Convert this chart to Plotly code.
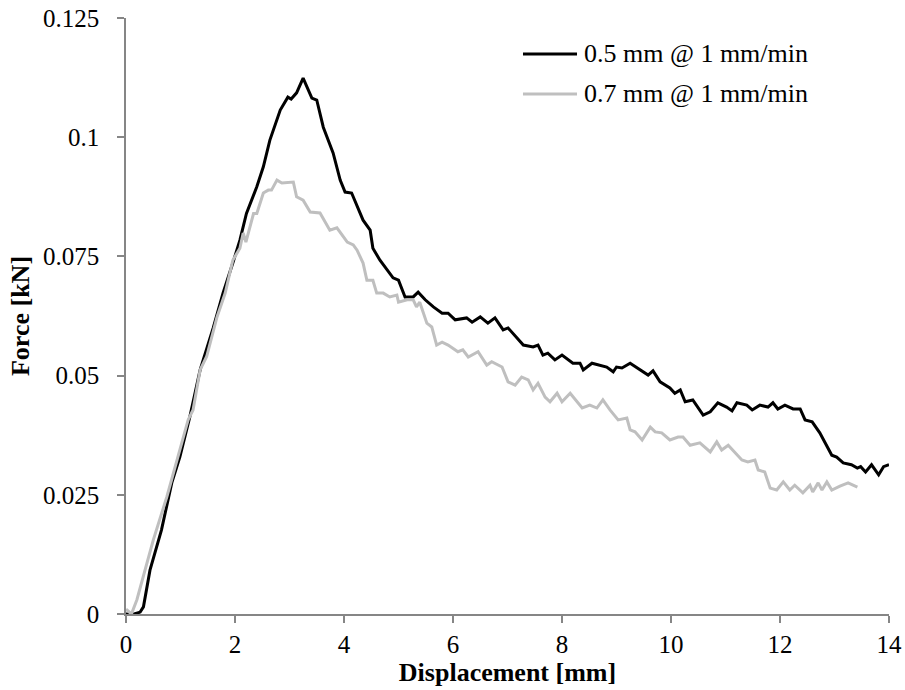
import plotly.graph_objects as go

# Series 1: 0.5 mm @ 1 mm/min
x_05 = [0, 0.15, 0.26, 0.32, 0.44, 0.65, 0.84, 0.99, 1.17, 1.36, 1.6, 1.78, 1.96, 2.09, 2.21, 2.4, 2.52, 2.64,
        2.83, 2.97, 3.03, 3.13, 3.25, 3.41, 3.5, 3.62, 3.8, 3.93, 4.02, 4.14, 4.35, 4.48, 4.53, 4.66, 4.9, 5.0,
        5.12, 5.27, 5.36, 5.49, 5.64, 5.8, 5.91, 6.04, 6.25, 6.35, 6.5, 6.64, 6.77, 6.92, 7.01, 7.29, 7.47,
        7.56, 7.65, 7.74, 7.87, 8.0, 8.2, 8.33, 8.39, 8.55, 8.82, 8.94, 9.0, 9.1, 9.25, 9.43, 9.58, 9.67, 9.8,
        9.98, 10.07, 10.17, 10.26, 10.4, 10.59, 10.72, 10.86, 11.02, 11.12, 11.21, 11.39, 11.49, 11.63, 11.78,
        11.87, 11.96, 12.09, 12.24, 12.37, 12.46, 12.59, 12.73, 12.86, 12.95, 13.04, 13.16, 13.31, 13.42, 13.48,
        13.57, 13.68, 13.81, 13.9, 14.0]
y_05 = [0.0, 0.0, 0.0004, 0.0015, 0.0092, 0.0176, 0.0275, 0.033, 0.0413, 0.0512, 0.060, 0.0673, 0.0736, 0.0784,
        0.084, 0.0896, 0.0938, 0.0994, 0.1057, 0.1084, 0.108, 0.1093, 0.1124, 0.1082, 0.1078, 0.1021, 0.0967,
        0.091, 0.0885, 0.0883, 0.0826, 0.0805, 0.0767, 0.0742, 0.0705, 0.070, 0.0665, 0.0665, 0.0675, 0.0659,
        0.0644, 0.0631, 0.0631, 0.0617, 0.0621, 0.0612, 0.0623, 0.061, 0.0621, 0.0596, 0.060, 0.0564, 0.056,
        0.0564, 0.0543, 0.0547, 0.0533, 0.0543, 0.0526, 0.0526, 0.0512, 0.0526, 0.0518, 0.0508, 0.0518, 0.0516,
        0.0526, 0.0512, 0.0501, 0.051, 0.0487, 0.0474, 0.0463, 0.047, 0.0445, 0.0449, 0.0417, 0.0424, 0.0443,
        0.0434, 0.0426, 0.0443, 0.0438, 0.0428, 0.0438, 0.0434, 0.0443, 0.043, 0.0438, 0.043, 0.043, 0.0407,
        0.0403, 0.038, 0.0351, 0.0333, 0.0329, 0.0317, 0.0313, 0.0306, 0.0309, 0.0298, 0.0313, 0.0292, 0.0309,
        0.0313]

# Series 2: 0.7 mm @ 1 mm/min
x_07 = [0, 0.1, 0.2, 0.32, 0.5, 0.75, 0.96, 1.14, 1.23, 1.36, 1.48, 1.67, 1.82, 1.96, 2.09, 2.15, 2.2, 2.28,
        2.34, 2.4, 2.52, 2.61, 2.67, 2.77, 2.86, 3.07, 3.13, 3.25, 3.38, 3.56, 3.74, 3.87, 4.06, 4.17, 4.24, 4.35,
        4.42, 4.53, 4.6, 4.72, 4.84, 4.97, 5.0, 5.16, 5.27, 5.33, 5.39, 5.52, 5.61, 5.7, 5.8, 5.91, 6.09, 6.18,
        6.28, 6.46, 6.62, 6.71, 6.9, 7.01, 7.14, 7.26, 7.38, 7.47, 7.56, 7.69, 7.78, 7.91, 8.0, 8.15, 8.37, 8.51,
        8.64, 8.75, 8.88, 9.03, 9.19, 9.25, 9.34, 9.47, 9.62, 9.71, 9.83, 9.98, 10.13, 10.22, 10.35, 10.53,
        10.72, 10.84, 10.93, 11.05, 11.17, 11.3, 11.41, 11.54, 11.6, 11.72, 11.82, 11.94, 12.06, 12.18, 12.27,
        12.42, 12.55, 12.6, 12.7, 12.77, 12.86, 12.95, 13.1, 13.25, 13.42]
y_07 = [0.001, 0.0, 0.003, 0.0078, 0.0155, 0.0246, 0.033, 0.0407, 0.0428, 0.0512, 0.054, 0.0623, 0.0673, 0.0742,
        0.0767, 0.0799, 0.078, 0.0812, 0.084, 0.084, 0.0883, 0.0889, 0.0889, 0.091, 0.0904, 0.0906, 0.0875,
        0.0868, 0.0843, 0.0841, 0.0805, 0.081, 0.078, 0.0774, 0.0763, 0.0736, 0.070, 0.070, 0.0673, 0.0673,
        0.0665, 0.0669, 0.0654, 0.0659, 0.0659, 0.0644, 0.0654, 0.061, 0.0602, 0.0564, 0.057, 0.0564, 0.055,
        0.0554, 0.0539, 0.055, 0.0522, 0.0529, 0.0518, 0.0487, 0.048, 0.0497, 0.0491, 0.047, 0.0484, 0.0455,
        0.0445, 0.0463, 0.0445, 0.0463, 0.0432, 0.0438, 0.0432, 0.0449, 0.0428, 0.0407, 0.0411, 0.0386, 0.0382,
        0.0365, 0.0392, 0.0382, 0.038, 0.0365, 0.0371, 0.0371, 0.0354, 0.0359, 0.034, 0.0361, 0.0344, 0.0354,
        0.034, 0.0323, 0.0319, 0.0323, 0.0302, 0.0298, 0.0264, 0.026, 0.0277, 0.026, 0.027, 0.0254, 0.027,
        0.0256, 0.0275, 0.026, 0.0277, 0.026, 0.0268, 0.0275, 0.0266]

series_names = ["0.5 mm @ 1 mm/min", "0.7 mm @ 1 mm/min"]
series_colors = ["black", "#BFBFBF"]

x_ticks = [0, 2, 4, 6, 8, 10, 12, 14]
y_ticks = [0, 0.025, 0.05, 0.075, 0.1, 0.125]
y_tick_labels = ["0", "0.025", "0.05", "0.075", "0.1", "0.125"]

FONT = "Liberation Serif, Times New Roman, serif"
AXIS_COLOR = "#868686"

fig = go.Figure()
for xs, ys, name, color in zip([x_05, x_07], [y_05, y_07], series_names, series_colors):
    fig.add_trace(go.Scatter(x=xs, y=ys, mode="lines", name=name,
                             line=dict(color=color, width=3), showlegend=False))

# Legend drawn manually (long line samples directly touching the text, as in the original)
legend_rows_y = [0.9396, 0.8725]
for ly, name, color in zip(legend_rows_y, series_names, series_colors):
    fig.add_shape(type="line", xref="paper", yref="paper", x0=0.5203, x1=0.5911, y0=ly, y1=ly,
                  line=dict(color=color, width=3))
    fig.add_annotation(xref="paper", yref="paper", x=0.5976, y=ly, text=name, showarrow=False,
                       xanchor="left", yanchor="middle", font=dict(size=26, color="black"))

fig.update_layout(
    width=905, height=690,
    margin=dict(l=126, r=16, t=18, b=76),
    plot_bgcolor="white", paper_bgcolor="white",
    font=dict(family=FONT, size=25, color="black"),
    showlegend=False,
)
fig.update_xaxes(
    range=[0, 14], tickvals=x_ticks, showgrid=False, zeroline=False,
    showline=True, linecolor=AXIS_COLOR, linewidth=1.5,
    ticks="outside", ticklen=7, tickcolor=AXIS_COLOR, tickwidth=1.5,
    tickfont=dict(size=25), ticklabelstandoff=0, automargin=False, ticklabeloverflow="allow",
    title=dict(text="<b>Displacement [mm]</b>", font=dict(size=26), standoff=0),
)
fig.update_yaxes(
    range=[0, 0.125], tickvals=y_ticks, ticktext=y_tick_labels, showgrid=False, zeroline=False,
    showline=True, linecolor=AXIS_COLOR, linewidth=1.5,
    ticks="outside", ticklen=7, tickcolor=AXIS_COLOR, tickwidth=1.5,
    tickfont=dict(size=25), ticklabelstandoff=13, automargin=False, ticklabeloverflow="allow",
    title=dict(text="<b>Force [kN]</b>", font=dict(size=26), standoff=6),
)

# remove the page's default body margin so the 905x690 figure fills the window exactly
fig.write_html("out.html", config={"displayModeBar": False},
               post_script="document.body.style.margin='0';document.body.style.overflow='hidden';")
